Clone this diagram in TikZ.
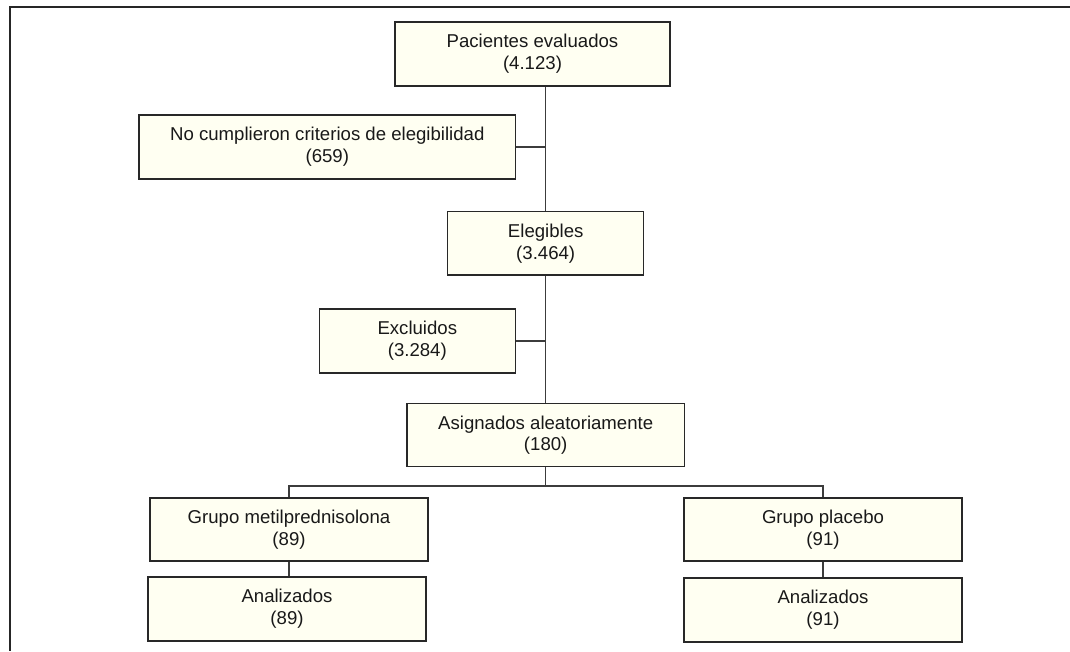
\documentclass[tikz,border=0pt]{standalone}
\usepackage{fontspec}
\setmainfont{Liberation Sans}
\definecolor{boxfill}{RGB}{255,255,242}
\definecolor{boxline}{RGB}{40,40,40}
\definecolor{connline}{RGB}{60,60,60}
\definecolor{txt}{RGB}{25,25,25}
\begin{document}
\begin{tikzpicture}[x=1pt,y=-1pt,
  flowbox/.style={draw=boxline, line width=1.4pt, fill=boxfill, rectangle,
    inner sep=0pt, align=center, text=txt,
    font=\fontsize{18.6}{21.7}\selectfont},
  conn/.style={draw=connline, line width=1.3pt},
  frameline/.style={draw=black!85, line width=1.6pt}]
\useasboundingbox (0,0) rectangle (1070,651);
\draw[frameline] (1070,7) -- (10,7) -- (10,651);

\node[flowbox, minimum width=275pt, minimum height=64pt] (pac) at (532.5,54) {Pacientes evaluados\\(4.123)};
\node[flowbox, minimum width=376.7pt, minimum height=64pt] (noc) at (327.3,147) {No cumplieron criterios de elegibilidad\\(659)};
\node[flowbox, minimum width=196pt, minimum height=63.3pt] (eleg) at (545.7,243.4) {Elegibles\\(3.464)};
\node[flowbox, minimum width=196pt, minimum height=64pt] (exc) at (417.3,341) {Excluidos\\(3.284)};
\node[flowbox, minimum width=277.3pt, minimum height=63pt] (asig) at (545.7,435.2) {Asignados aleatoriamente\\(180)};
\node[flowbox, minimum width=278pt, minimum height=63.3pt] (gm) at (289,529.5) {Grupo metilprednisolona\\(89)};
\node[flowbox, minimum width=278pt, minimum height=64pt] (am) at (287,609) {Analizados\\(89)};
\node[flowbox, minimum width=278pt, minimum height=63pt] (gp) at (823,529.5) {Grupo placebo\\(91)};
\node[flowbox, minimum width=278pt, minimum height=64pt] (ap) at (823,610) {Analizados\\(91)};

\coordinate (split) at (545.7,486);

\draw[conn] (eleg.north |- pac.south) -- (eleg.north);
\draw[conn] (noc.east) -- (noc.east -| eleg.north);
\draw[conn] (eleg.south) -- (asig.north);
\draw[conn] (exc.east) -- (exc.east -| eleg.south);
\draw[conn] (asig.south) -- (split);
\draw[conn] (gm.north) -- (gm.north |- split) -- (gp.north |- split) -- (gp.north);
\draw[conn] (gm.south) -- (gm.south |- am.north);
\draw[conn] (gp.south) -- (ap.north);
\end{tikzpicture}
\end{document}
